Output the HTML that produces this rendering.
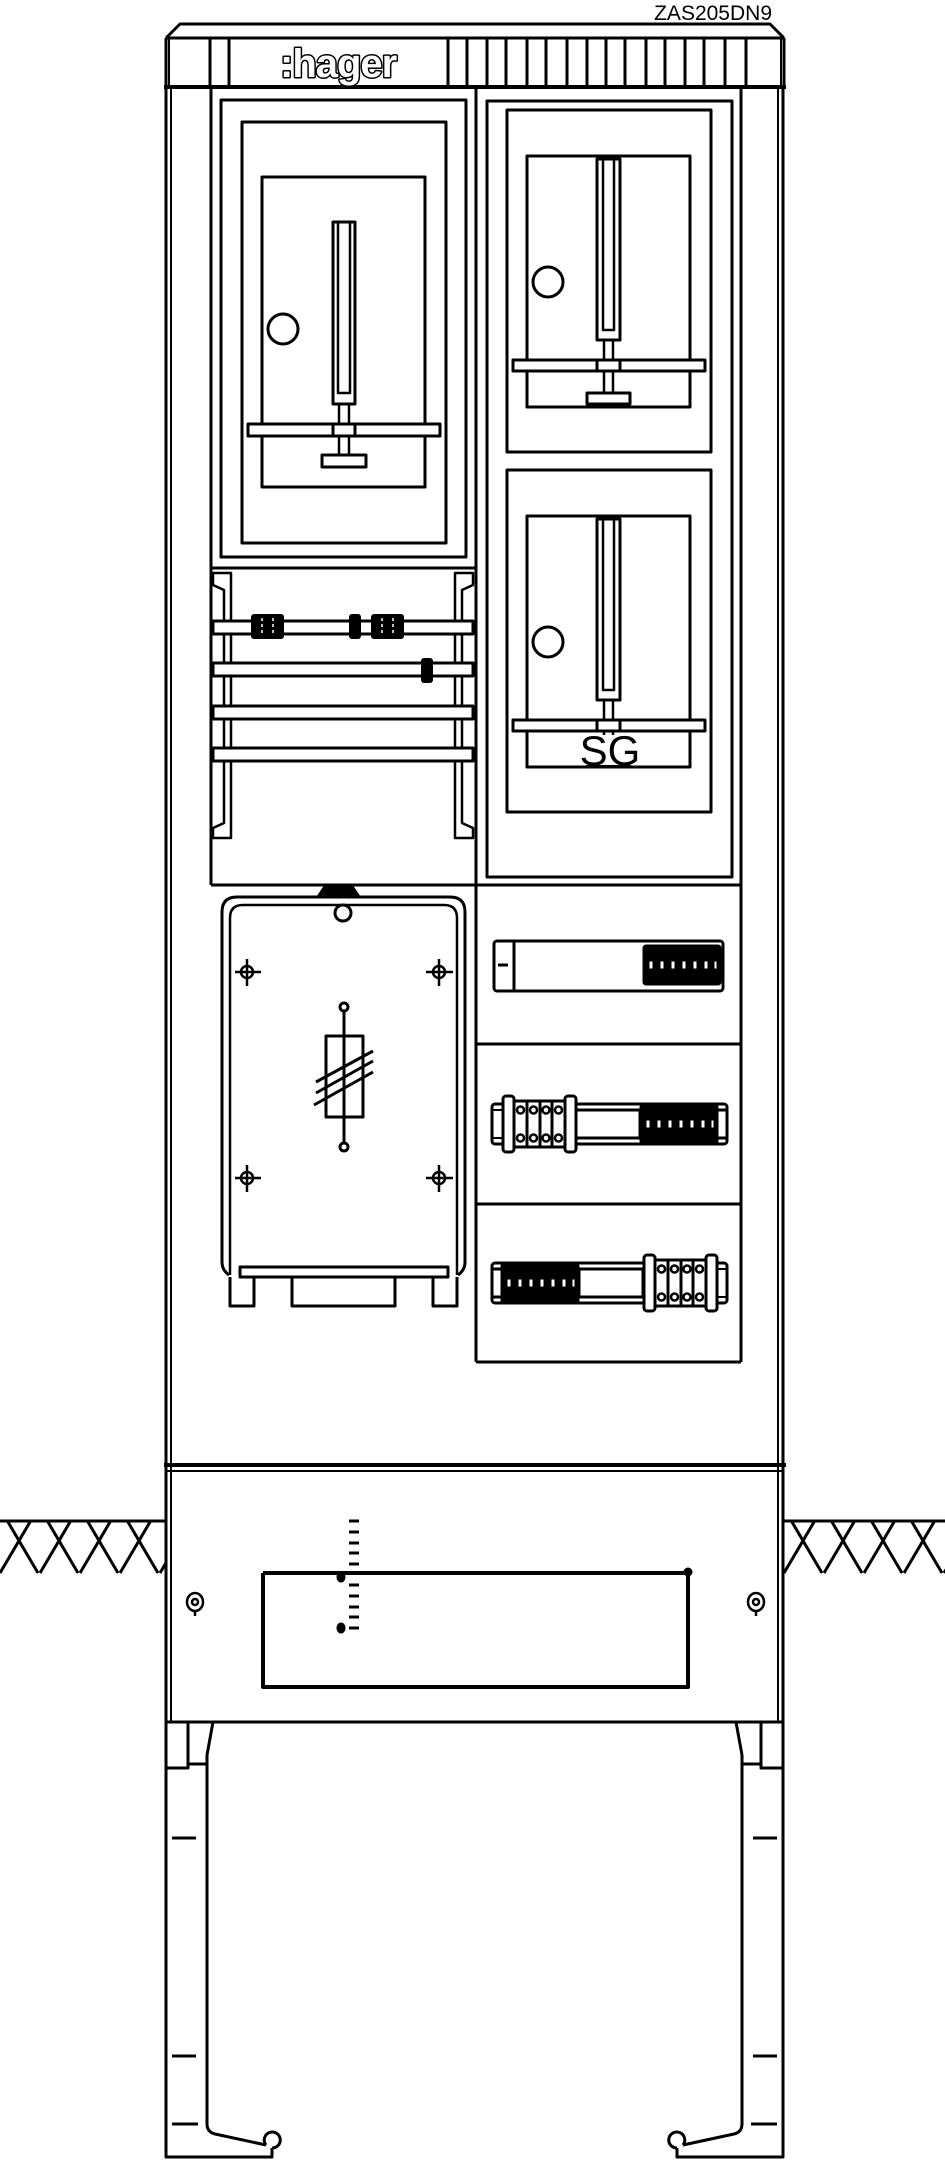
<!DOCTYPE html>
<html><head><meta charset="utf-8"><style>
html,body{margin:0;padding:0;background:#fff}
svg{display:block}
</style></head><body>
<svg width="945" height="2160" viewBox="0 0 945 2160" xmlns="http://www.w3.org/2000/svg">
<defs>
<g id="term4">
  <rect x="0" y="-8" width="11" height="56" rx="3" fill="#fff" stroke="#000" stroke-width="3"/>
  <rect x="62" y="-8" width="11" height="56" rx="3" fill="#fff" stroke="#000" stroke-width="3"/>
  <rect x="11" y="-3" width="51" height="46" fill="#fff" stroke="#000" stroke-width="3"/>
  <line x1="24" y1="-3" x2="24" y2="43" stroke="#000" stroke-width="3"/>
  <line x1="37" y1="-3" x2="37" y2="43" stroke="#000" stroke-width="3"/>
  <line x1="49" y1="-3" x2="49" y2="43" stroke="#000" stroke-width="3"/>
  <circle cx="17.5" cy="6" r="3.5" fill="#fff" stroke="#000" stroke-width="2.5"/>
  <circle cx="30.5" cy="6" r="3.5" fill="#fff" stroke="#000" stroke-width="2.5"/>
  <circle cx="43" cy="6" r="3.5" fill="#fff" stroke="#000" stroke-width="2.5"/>
  <circle cx="55.5" cy="6" r="3.5" fill="#fff" stroke="#000" stroke-width="2.5"/>
  <circle cx="17.5" cy="34" r="3.5" fill="#fff" stroke="#000" stroke-width="2.5"/>
  <circle cx="30.5" cy="34" r="3.5" fill="#fff" stroke="#000" stroke-width="2.5"/>
  <circle cx="43" cy="34" r="3.5" fill="#fff" stroke="#000" stroke-width="2.5"/>
  <circle cx="55.5" cy="34" r="3.5" fill="#fff" stroke="#000" stroke-width="2.5"/>
</g>
<g id="dark7">
  <rect x="0" y="0" width="76" height="38" rx="2" fill="#000"/>
  <g fill="#fff">
    <rect x="4" y="14" width="6" height="10"/><rect x="15" y="14" width="6" height="10"/>
    <rect x="26" y="14" width="6" height="10"/><rect x="37" y="14" width="6" height="10"/>
    <rect x="48" y="14" width="6" height="10"/><rect x="59" y="14" width="6" height="10"/>
    <rect x="69" y="14" width="5" height="10"/>
    <rect x="2" y="4" width="72" height="1.5"/><rect x="2" y="32" width="72" height="1.5"/>
  </g>
</g>
<clipPath id="gl"><rect x="0" y="1522" width="165" height="52"/></clipPath>
<clipPath id="gr"><rect x="784" y="1522" width="161" height="52"/></clipPath>
<g id="hatchlines" stroke="#000" stroke-width="3">
  <line x1="-40" y1="1573" x2="-10" y2="1522"/>
  <line x1="0" y1="1573" x2="30" y2="1522"/>
  <line x1="40" y1="1573" x2="70" y2="1522"/>
  <line x1="80" y1="1573" x2="110" y2="1522"/>
  <line x1="120" y1="1573" x2="150" y2="1522"/>
  <line x1="160" y1="1573" x2="190" y2="1522"/>
  <line x1="200" y1="1573" x2="230" y2="1522"/>
  <line x1="8" y1="1522" x2="38" y2="1573"/>
  <line x1="48" y1="1522" x2="78" y2="1573"/>
  <line x1="88" y1="1522" x2="118" y2="1573"/>
  <line x1="128" y1="1522" x2="158" y2="1573"/>
  <line x1="168" y1="1522" x2="198" y2="1573"/>
  <line x1="-32" y1="1522" x2="-2" y2="1573"/>
</g>
</defs>

<g fill="none" stroke="#000" stroke-width="3" stroke-linejoin="round">
<text x="772" y="20" text-anchor="end" font-family="Liberation Sans, sans-serif" font-size="21" fill="#000" stroke="none">ZAS205DN9</text>

<!-- top cap -->
<path d="M166,38 L180,24 L770,24 L784,38"/>
<line x1="166" y1="38" x2="784" y2="38"/>
<line x1="166" y1="38" x2="166" y2="86"/>
<line x1="169" y1="38" x2="169" y2="86" stroke-width="2"/>
<line x1="784" y1="38" x2="784" y2="86"/>
<line x1="781" y1="38" x2="781" y2="86" stroke-width="2"/>
<line x1="164" y1="87" x2="786" y2="87" stroke-width="4"/>
<g>
<line x1="210" y1="38" x2="210" y2="86"/><line x1="229" y1="38" x2="229" y2="86"/>
<line x1="448" y1="38" x2="448" y2="86"/><line x1="467" y1="38" x2="467" y2="86"/>
<line x1="487" y1="38" x2="487" y2="86"/><line x1="506" y1="38" x2="506" y2="86"/>
<line x1="527" y1="38" x2="527" y2="86"/><line x1="546" y1="38" x2="546" y2="86"/>
<line x1="567" y1="38" x2="567" y2="86"/><line x1="587" y1="38" x2="587" y2="86"/>
<line x1="606" y1="38" x2="606" y2="86"/><line x1="625" y1="38" x2="625" y2="86"/>
<line x1="646" y1="38" x2="646" y2="86"/><line x1="665" y1="38" x2="665" y2="86"/>
<line x1="685" y1="38" x2="685" y2="86"/><line x1="704" y1="38" x2="704" y2="86"/>
<line x1="725" y1="38" x2="725" y2="86"/><line x1="746" y1="38" x2="746" y2="86"/>
</g>
<text x="280" y="77" font-family="Liberation Sans, sans-serif" font-weight="bold" font-size="40" fill="#fff" stroke="#000" stroke-width="3" letter-spacing="-1" paint-order="stroke">:hager</text>

<!-- body sides -->
<line x1="166" y1="88" x2="166" y2="1722"/>
<line x1="171" y1="88" x2="171" y2="1722" stroke-width="2"/>
<line x1="783" y1="88" x2="783" y2="1722"/>
<line x1="778" y1="88" x2="778" y2="1722" stroke-width="2"/>
<line x1="164" y1="1465" x2="786" y2="1465" stroke-width="4"/>
<line x1="166" y1="1471" x2="783" y2="1471" stroke-width="2"/>
<line x1="166" y1="1722" x2="783" y2="1722"/>

<!-- column frames -->
<line x1="211" y1="88" x2="211" y2="885"/>
<line x1="476" y1="88" x2="476" y2="1362"/>
<line x1="741" y1="88" x2="741" y2="885"/>
<line x1="211" y1="568" x2="476" y2="568"/>
<line x1="211" y1="885" x2="741" y2="885"/>

<!-- left meter -->
<rect x="221" y="100" width="245" height="457"/>
<rect x="242" y="122" width="204" height="421"/>
<rect x="262" y="177" width="163" height="310"/>
<rect x="333" y="222" width="22" height="182"/>
<rect x="338" y="222" width="12" height="171" stroke-width="2.5"/>
<rect x="339" y="404" width="10" height="51" stroke-width="2.5"/>
<rect x="248" y="424" width="192" height="12" fill="#fff"/>
<rect x="333" y="424" width="22" height="12"/>
<rect x="322" y="455" width="44" height="12" fill="#fff"/>
<circle cx="283" cy="329" r="15"/>

<!-- right meters -->
<rect x="487" y="101" width="245" height="776"/>
<g id="m1">
<rect x="507" y="110" width="204" height="342"/>
<rect x="527" y="156" width="163" height="251"/>
<rect x="597" y="159" width="23" height="181"/>
<rect x="603" y="159" width="11" height="171" stroke-width="2.5"/>
<rect x="604" y="340" width="9" height="53" stroke-width="2.5"/>
<rect x="513" y="360" width="192" height="11" fill="#fff"/>
<rect x="597" y="360" width="23" height="11"/>
<rect x="587" y="393" width="43" height="11" fill="#fff"/>
<circle cx="548" cy="282" r="15"/>
</g>
<use href="#m1" y="360"/>
<rect x="540" y="735" width="140" height="30" fill="#fff" stroke="none"/>
<line x1="527" y1="767" x2="690" y2="767"/>
<text x="610" y="765" text-anchor="middle" font-family="Liberation Sans, sans-serif" font-size="42" fill="#000" stroke="none">SG</text>

<!-- left rails area -->
<path d="M213,573 L231,573 L231,838 L213,838 L213,828 L224,823 L224,590 L213,585 Z" stroke-width="2.5"/>
<path d="M473,573 L455,573 L455,838 L473,838 L473,828 L462,823 L462,590 L473,585 Z" stroke-width="2.5"/>
<rect x="213" y="621" width="260" height="13" fill="#fff"/>
<rect x="213" y="663" width="260" height="13" fill="#fff"/>
<rect x="213" y="706" width="260" height="13" fill="#fff"/>
<rect x="213" y="748" width="260" height="13" fill="#fff"/>
<g fill="#000" stroke="none">
<rect x="251" y="614" width="33" height="25" rx="3"/>
<rect x="349" y="614" width="12" height="25" rx="3"/>
<rect x="371" y="614" width="33" height="25" rx="3"/>
<rect x="421" y="658" width="12" height="25" rx="3"/>
</g>
<g stroke="#fff" stroke-width="1.5" stroke-dasharray="3,3">
<line x1="262" y1="618" x2="262" y2="636"/><line x1="273" y1="618" x2="273" y2="636"/>
<line x1="382" y1="618" x2="382" y2="636"/><line x1="393" y1="618" x2="393" y2="636"/>
</g>

<!-- fuse box -->
<path d="M318,897 L324,888 L353,888 L359,897" fill="#000"/>
<path d="M222,1262 L222,912 Q222,897 237,897 L450,897 Q465,897 465,912 L465,1262 Q465,1270 458,1275" />
<path d="M222,1262 Q222,1270 229,1275"/>
<path d="M230,1275 L230,918 Q230,905 243,905 L444,905 Q457,905 457,918 L457,1275" stroke-width="2.5"/>
<circle cx="343" cy="913" r="8" fill="#fff"/>
<rect x="240" y="1267" width="208" height="10" fill="#fff"/>
<path d="M230,1277 L230,1306 L254,1306 L254,1277"/>
<path d="M457,1277 L457,1306 L433,1306 L433,1277"/>
<rect x="292" y="1277" width="103" height="29"/>
<g stroke-width="2.5">
<circle cx="247" cy="972" r="6"/><line x1="235" y1="972" x2="261" y2="972"/><line x1="247" y1="959" x2="247" y2="986"/>
<circle cx="439" cy="972" r="6"/><line x1="426" y1="972" x2="453" y2="972"/><line x1="439" y1="959" x2="439" y2="986"/>
<circle cx="247" cy="1178" r="6"/><line x1="235" y1="1178" x2="261" y2="1178"/><line x1="247" y1="1165" x2="247" y2="1192"/>
<circle cx="439" cy="1178" r="6"/><line x1="426" y1="1178" x2="453" y2="1178"/><line x1="439" y1="1165" x2="439" y2="1192"/>
</g>
<line x1="344" y1="1011" x2="344" y2="1142"/>
<circle cx="344" cy="1007" r="4"/>
<circle cx="344" cy="1147" r="4"/>
<rect x="326" y="1036" width="37" height="81"/>
<line x1="316" y1="1082" x2="373" y2="1051"/>
<line x1="316" y1="1093" x2="373" y2="1061"/>
<line x1="314" y1="1105" x2="373" y2="1072"/>

<!-- right lower compartments -->
<line x1="476" y1="1044" x2="741" y2="1044"/>
<line x1="476" y1="1204" x2="741" y2="1204"/>
<line x1="476" y1="1362" x2="741" y2="1362"/>
<line x1="741" y1="885" x2="741" y2="1362"/>
<rect x="494" y="941" width="229" height="50" rx="3"/>
<line x1="514" y1="941" x2="514" y2="991"/>
<line x1="498" y1="965" x2="508" y2="965"/>
<use href="#dark7" x="644" y="946"/>
<rect x="492" y="1104" width="235" height="40" rx="3"/>
<line x1="492" y1="1110" x2="727" y2="1110" stroke-width="2"/>
<line x1="492" y1="1138" x2="727" y2="1138" stroke-width="2"/>
<rect x="576" y="1110" width="64" height="28" fill="#fff"/>
<use href="#term4" x="503" y="1104"/>
<use href="#dark7" x="641" y="1105"/>
<rect x="717" y="1110" width="10" height="28"/>
<rect x="492" y="1263" width="235" height="40" rx="3"/>
<line x1="492" y1="1269" x2="727" y2="1269" stroke-width="2"/>
<line x1="492" y1="1297" x2="727" y2="1297" stroke-width="2"/>
<rect x="579" y="1269" width="64" height="28" fill="#fff"/>
<use href="#dark7" x="502" y="1264"/>
<rect x="492" y="1269" width="10" height="28"/>
<use href="#term4" x="644" y="1263"/>

<!-- ground -->
<g clip-path="url(#gl)"><use href="#hatchlines"/></g>
<g clip-path="url(#gr)"><use href="#hatchlines" x="784"/></g>
<line x1="0" y1="1521" x2="166" y2="1521"/>
<line x1="783" y1="1521" x2="945" y2="1521"/>

<!-- lower box -->
<path d="M263,1573 L688,1573 M263,1573 L263,1687 L688,1687 L688,1573" stroke-width="4"/>
<circle cx="688" cy="1572" r="3" fill="#000"/>
<g stroke-width="3">
<line x1="349" y1="1521" x2="359" y2="1521"/><line x1="349" y1="1532" x2="359" y2="1532"/>
<line x1="349" y1="1543" x2="359" y2="1543"/><line x1="349" y1="1553" x2="359" y2="1553"/>
<line x1="349" y1="1564" x2="359" y2="1564"/>
<line x1="349" y1="1585" x2="359" y2="1585"/><line x1="349" y1="1596" x2="359" y2="1596"/>
<line x1="349" y1="1607" x2="359" y2="1607"/><line x1="349" y1="1617" x2="359" y2="1617"/>
<line x1="349" y1="1628" x2="359" y2="1628"/>
</g>
<ellipse cx="341" cy="1577" rx="3" ry="4" fill="#000"/>
<ellipse cx="341" cy="1628" rx="3" ry="4" fill="#000"/>
<g stroke-width="2.5">
<ellipse cx="195" cy="1602" rx="8" ry="9"/><circle cx="195" cy="1602" r="3"/><line x1="195" y1="1611" x2="195" y2="1616"/>
<ellipse cx="756" cy="1602" rx="8" ry="9"/><circle cx="756" cy="1602" r="3"/><line x1="756" y1="1611" x2="756" y2="1616"/>
</g>

<!-- legs -->
<g id="legL">
<path d="M166,1722 L166,2157 L272,2157 L272,2148"/>
<path d="M207,1755 L207,2124 Q207,2132 215,2134 L266,2145"/>
<path d="M266,2145 A8,8 0 1 1 272,2148"/>
<path d="M207,1755 L213,1722"/>
<path d="M166,1768 L188,1768 L188,1722 M188,1764 L207,1764"/>
<line x1="172" y1="1838" x2="196" y2="1838"/>
<line x1="172" y1="2056" x2="196" y2="2056"/>
<line x1="172" y1="2124" x2="198" y2="2124"/>
</g>
<use href="#legL" transform="translate(949,0) scale(-1,1)"/>
</g>
</svg>
</body></html>
